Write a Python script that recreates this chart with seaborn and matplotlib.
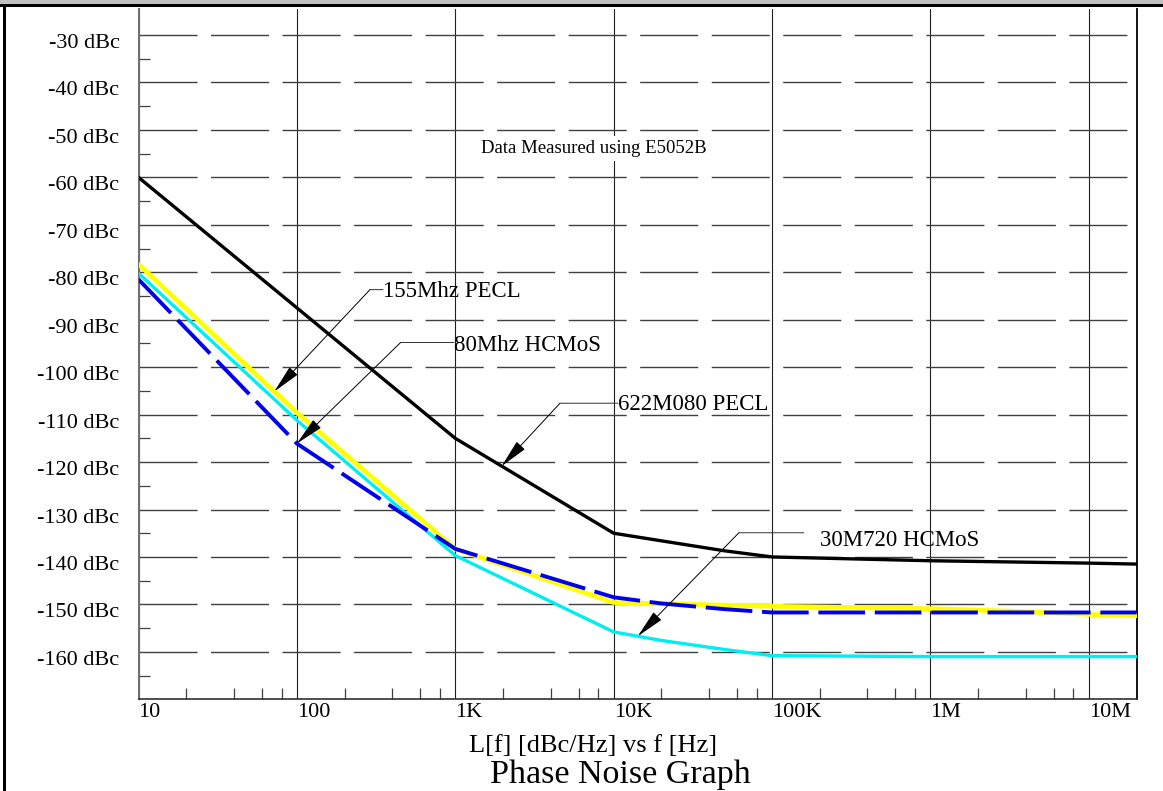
import numpy as np
import pandas as pd
import matplotlib
matplotlib.use("Agg")
import matplotlib.pyplot as plt
import matplotlib.transforms as mtransforms
from matplotlib.patches import Rectangle
from matplotlib.ticker import NullFormatter
import seaborn as sns

# ---------------- data ----------------
freq_622 = [10, 100, 1000, 10000, 20000, 50000, 100000, 1e6, 1e7, 2e7]
pn_622 = [-60, -87.5, -115, -135, -136.6, -138.7, -140, -140.8, -141.3, -141.5]

freq_155 = [10, 100, 1000, 10000, 100000, 1e6, 3e6, 1e7, 2e7]
pn_155 = [-78.3, -109.6, -138.3, -149.6, -150.4, -150.9, -151.4, -152.1, -152.4]

freq_80 = [10, 100, 1000, 10000, 20000, 50000, 100000, 1e6, 1e7, 2e7]
pn_80 = [-81.5, -116.1, -138.3, -148.5, -149.8, -151.0, -151.7, -151.7, -151.7, -151.7]

freq_30 = [10, 100, 1000, 10000, 20000, 50000, 100000, 1e6, 1e7, 2e7]
pn_30 = [-80.2, -111.2, -139.7, -155.8, -157.6, -159.5, -160.8, -161.0, -161.0, -161.0]

series_names = ["155Mhz PECL", "30M720 HCMoS", "80Mhz HCMoS", "622M080 PECL"]
y_ticks = [-30, -40, -50, -60, -70, -80, -90, -100, -110, -120, -130, -140, -150, -160]
y_tick_labels = [f"{v} dBc" for v in y_ticks]
x_ticks = [10, 100, 1e3, 1e4, 1e5, 1e6, 1e7]
x_tick_labels = ["10", "100", "1K", "10K", "100K", "1M", "10M"]
note_text = "Data Measured using E5052B"
x_title = "L[f] [dBc/Hz] vs f [Hz]"
main_title = "Phase Noise Graph"

series_data = {
    "155Mhz PECL": (freq_155, pn_155),
    "30M720 HCMoS": (freq_30, pn_30),
    "80Mhz HCMoS": (freq_80, pn_80),
    "622M080 PECL": (freq_622, pn_622),
}
df = pd.concat(
    [pd.DataFrame({"freq": f, "level": v, "series": n}) for n, (f, v) in series_data.items()],
    ignore_index=True,
)

# ---------------- styles ----------------
styles = {
    "155Mhz PECL": dict(color="#ffff00", lw=3.4, ls="-"),
    "30M720 HCMoS": dict(color="#00eeee", lw=2.4, ls="-"),
    "80Mhz HCMoS": dict(color="#0000ee", lw=2.8, ls=(0, (12, 2.5))),
    "622M080 PECL": dict(color="#000000", lw=2.4, ls="-"),
}

sns.set_theme(style="white")
plt.rcParams["font.family"] = ["Liberation Serif", "DejaVu Serif"]

W, H = 1163, 791
fig = plt.figure(figsize=(W / 100, H / 100), dpi=100)
fig.patch.set_facecolor("white")
ax = fig.add_axes([138.5 / W, 1 - 699.3 / H, (1136.5 - 138.5) / W, (699.3 - 9.3) / H])
ax.set_facecolor("white")
ax.set_xscale("log")

for name in series_names:
    st = styles[name]
    sns.lineplot(
        data=df[df["series"] == name], x="freq", y="level", ax=ax,
        color=st["color"], linewidth=st["lw"], linestyle=st["ls"],
        errorbar=None, legend=False, sort=True, zorder=3,
    )

ax.set_xlim(10, 2e7)
ax.set_ylim(-170.0, -24.58)
ax.set_xlabel("")
ax.set_ylabel("")

# ticks
ax.set_xticks(x_ticks, x_tick_labels)
ax.set_yticks(y_ticks, y_tick_labels)
x_minor = [m * 10 ** d for d in range(1, 8) for m in (2, 4, 6, 8) if m * 10 ** d < 1.9e7]
ax.set_xticks(x_minor, minor=True)
ax.xaxis.set_minor_formatter(NullFormatter())
ax.set_yticks(np.arange(-35, -170, -10), minor=True)
ax.yaxis.set_minor_formatter(NullFormatter())

ax.tick_params(which="major", length=0)
ax.tick_params(which="minor", direction="in", length=8, width=0.9, color="#404040",
               bottom=True, left=True, top=False, right=False)
ax.tick_params(axis="y", which="major", pad=13.7, labelsize=16, labelcolor="black")
ax.tick_params(axis="x", which="major", pad=3, labelsize=16, labelcolor="black")

for lab in ax.get_xticklabels():
    lab.set_ha("left")
    lab.set_va("top")
offset = mtransforms.ScaledTranslation(0, -0.13, fig.dpi_scale_trans)
for lab in ax.get_yticklabels():
    lab.set_va("baseline")
    lab.set_transform(lab.get_transform() + offset)

# grid
ax.grid(False)
ax.grid(axis="y", which="major", color="#404040", lw=1.0, linestyle=(0, (41.8, 9.7)))
ax.grid(axis="x", which="major", color="#202020", lw=0.8, linestyle="-")
ax.set_axisbelow(True)

# spines
ax.spines["top"].set_visible(False)
ax.spines["left"].set_color("#707070")
ax.spines["left"].set_linewidth(1.5)
ax.spines["bottom"].set_color("#303030")
ax.spines["bottom"].set_linewidth(1.2)
ax.spines["right"].set_color("black")
ax.spines["right"].set_linewidth(1.3)

# ---------------- annotations ----------------
def level_at(name, f):
    fr, lv = series_data[name]
    return float(np.interp(np.log10(f), np.log10(fr), lv))

annots = [
    # name, tip freq, elbow (f, dB), leader end f, text (f, dB baseline)
    ("155Mhz PECL", 72, (289.4, -83.66), 349.7, (350, -85.3)),
    ("80Mhz HCMoS", 100, (452, -94.8), 982, (982, -96.6)),
    ("622M080 PECL", 1963, (4581, -107.6), 10640, (10640, -109.1)),
    ("30M720 HCMoS", 14200, (61800, -134.9), 158800, (200000, -137.6)),
]
for name, tip_f, elbow, end_f, tpos in annots:
    tip = (tip_f, level_at(name, tip_f))
    ax.annotate("", xy=tip, xytext=elbow,
                arrowprops=dict(arrowstyle="-|>,head_length=1.8,head_width=0.35",
                                mutation_scale=10, color="black", lw=0.7,
                                shrinkA=0, shrinkB=0), zorder=5)
    ax.annotate("", xy=(end_f, elbow[1]), xytext=elbow,
                arrowprops=dict(arrowstyle="-", color="#333333", lw=0.7,
                                shrinkA=0, shrinkB=0), zorder=5)
    ax.text(tpos[0], tpos[1], name, ha="left", va="baseline", fontsize=16.5,
            color="black", zorder=6)

ax.text(1453, -54.8, note_text, ha="left", va="baseline", fontsize=13.5, color="black",
        zorder=6, bbox=dict(facecolor="white", edgecolor="none", pad=3))

# axis title and graph title below
fig.text(593 / W, 1 - 751.7 / H, x_title, ha="center", va="baseline", fontsize=19, color="black")
fig.text(620 / W, 1 - 783.5 / H, main_title, ha="center", va="baseline", fontsize=24.5, color="black")

# frame decorations of the page
fig.add_artist(Rectangle((0, 1 - 4 / H), 1, 4 / H, transform=fig.transFigure,
                         facecolor="#c0c0c0", edgecolor="none"))
fig.add_artist(Rectangle((0, 1 - 7 / H), 1, 3 / H, transform=fig.transFigure,
                         facecolor="black", edgecolor="none"))
fig.add_artist(Rectangle((3 / W, 0), 3 / W, 1 - 7 / H, transform=fig.transFigure,
                         facecolor="black", edgecolor="none"))

fig.savefig("out.png", dpi=100, facecolor="white")
